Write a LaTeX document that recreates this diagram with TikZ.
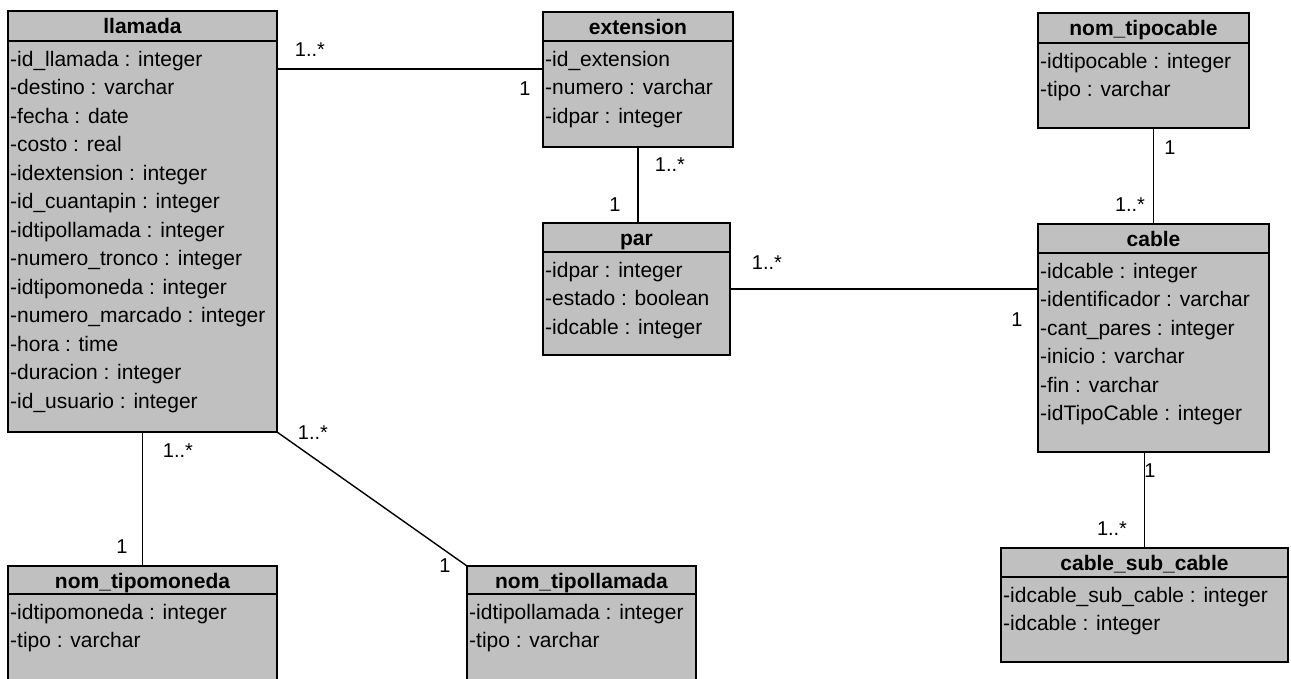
\documentclass[tikz,border=0pt]{standalone}
\usepackage{fontspec}
\setmainfont{Liberation Sans}
\definecolor{boxgray}{RGB}{192,192,192}
\tikzset{
  classbox/.style={draw=black, line width=1.4pt, fill=boxgray, inner sep=0pt, outer sep=0pt},
  divider/.style={draw=black, line width=1.4pt},
  titletext/.style={font=\fontsize{21}{25}\selectfont\bfseries, inner sep=0pt, anchor=base},
  attrtext/.style={font=\fontsize{21}{25}\selectfont, inner sep=0pt, anchor=base west},
  mult/.style={font=\fontsize{20}{24}\selectfont, inner sep=0pt},
  assoc/.style={draw=black, line width=1.4pt}
}
% \umlclass{name}{left}{top}{right}{bottom}{header bottom}{title}{attributes}
\newcommand{\umlclass}[8]{%
  \node[classbox, minimum width={(#4)-(#2)}, minimum height={(#5)-(#3)}]
    (#1) at ({((#2)+(#4))/2},{((#3)+(#5))/2}) {};
  \draw[divider] (#2,#6) -- (#4,#6);
  \node[titletext] (#1-title) at ({((#2)+(#4))/2},{(#3)+22.5}) {#7};
  \foreach \attr [count=\k] in {#8}
    \node[attrtext] (#1-attr\k) at ({(#2)+2},{(#6)+25+(\k-1)*28.5}) {\attr};
}
\begin{document}
\begin{tikzpicture}[x=1pt,y=-1pt]
\useasboundingbox (0,0) rectangle (1291,678);
\clip (0,0) rectangle (1291,678);

% classes
\umlclass{llamada}{8}{11}{277}{432}{41}{llamada}{%
  -id\_llamada : integer, -destino : varchar, -fecha : date, -costo : real,
  -idextension : integer, -id\_cuantapin : integer, -idtipollamada : integer,
  -numero\_tronco : integer, -idtipomoneda : integer, -numero\_marcado : integer,
  -hora : time, -duracion : integer, -id\_usuario : integer}
\umlclass{extension}{543}{12}{733}{147}{41}{extension}{%
  -id\_extension, -numero : varchar, -idpar : integer}
\umlclass{par}{543}{223}{730}{355}{252}{par}{%
  -idpar : integer, -estado : boolean, -idcable : integer}
\umlclass{tipocable}{1038}{13}{1249}{128}{43}{nom\_tipocable}{%
  -idtipocable : integer, -tipo : varchar}
\umlclass{cable}{1038}{224}{1269}{452}{253}{cable}{%
  -idcable : integer, -identificador : varchar, -cant\_pares : integer,
  -inicio : varchar, -fin : varchar, -idTipoCable : integer}
\umlclass{subcable}{1001}{548}{1288}{662}{577}{cable\_sub\_cable}{%
  -idcable\_sub\_cable : integer, -idcable : integer}
\umlclass{tipomoneda}{8}{566}{277}{710}{594}{nom\_tipomoneda}{%
  -idtipomoneda : integer, -tipo : varchar}
\umlclass{tipollamada}{467}{566}{696}{710}{594}{nom\_tipollamada}{%
  -idtipollamada : integer, -tipo : varchar}

% associations
\draw[assoc] ([yshift=-58pt]llamada.north east) -- ([yshift=-58pt]llamada.north east -| extension.west);
\draw[assoc] (extension.south) -- (extension.south |- par.north);
\draw[assoc] (par.east) -- (par.east -| cable.west);
\draw[assoc] (tipocable.south -| cable.north) -- (cable.north);
\draw[assoc] (cable.south -| subcable.north) -- (subcable.north);
\draw[assoc] (llamada.south) -- (llamada.south |- tipomoneda.north);
\draw[assoc] (llamada.south east) -- (tipollamada.north west);

% multiplicities
\node[mult] (m1) at (310,50) {1..*};
\node[mult] (m2) at (525,89) {1};
\node[mult] (m3) at (670,165) {1..*};
\node[mult] (m4) at (615,205) {1};
\node[mult] (m5) at (767,263) {1..*};
\node[mult] (m6) at (1017,320) {1};
\node[mult] (m7) at (1170,148) {1};
\node[mult] (m8) at (1130,205) {1..*};
\node[mult] (m9) at (1150,471) {1};
\node[mult] (m10) at (1112,529) {1..*};
\node[mult] (m11) at (178,451) {1..*};
\node[mult] (m12) at (122,547) {1};
\node[mult] (m13) at (313,433) {1..*};
\node[mult] (m14) at (445,566) {1};
\end{tikzpicture}
\end{document}
